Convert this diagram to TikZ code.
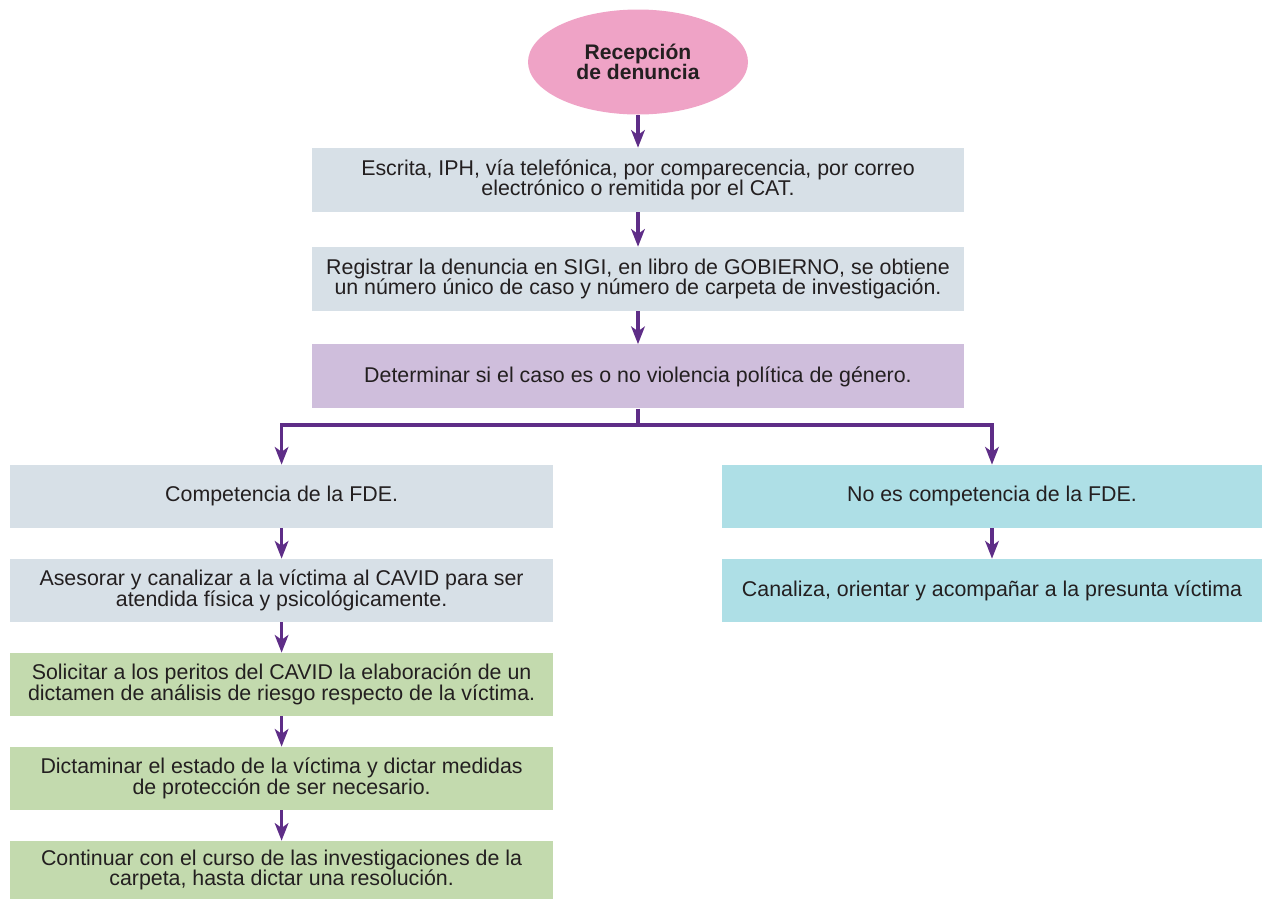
\documentclass[tikz,border=0pt]{standalone}
\usepackage{fontspec}
\setmainfont{Liberation Sans}
\usetikzlibrary{arrows.meta,shapes.geometric}

\definecolor{grisazul}{RGB}{215,224,231}
\definecolor{lila}{RGB}{207,190,220}
\definecolor{turquesa}{RGB}{174,223,230}
\definecolor{verde}{RGB}{195,218,174}
\definecolor{rosa}{RGB}{239,163,198}
\definecolor{morado}{RGB}{94,45,135}
\definecolor{texto}{RGB}{35,31,32}

\begin{document}
\begin{tikzpicture}[
    caja/.style ={rectangle, inner sep = 0pt, align=center, text=texto,
      font=\fontsize{15.2}{14.4}\selectfont},
    ancha/.style ={caja, minimum width=16.3cm, minimum height=1.6cm},
    izq/.style ={caja, minimum width=13.575cm, minimum height=1.575cm},
    der/.style ={caja, minimum width=13.5cm, minimum height=1.575cm},
    flecha/.style ={draw=morado, line width=2.3pt,
      -{Stealth[length=4.4mm, width=3.4mm, inset=1.2mm]}}]
   \useasboundingbox (0,0) rectangle (31.55,-22.475);
   \node[ellipse, fill=rosa, minimum width=5.5cm, minimum height=2.625cm, inner sep=0pt,
     align=center, text=texto, font=\fontsize{15}{14.4}\selectfont\bfseries]
     (recepcion) at (15.95,-1.55) {Recepción\\de denuncia};
   \node[ancha, fill=grisazul] (escrita) at (15.95,-4.5)
     {Escrita, IPH, vía telefónica, por comparecencia, por correo\\electrónico o remitida por el CAT.};
   \node[ancha, fill=grisazul] (registrar) at (15.95,-6.975)
     {Registrar la denuncia en SIGI, en libro de GOBIERNO, se obtiene\\un número único de caso y número de carpeta de investigación.};
   \node[ancha, fill=lila] (determinar) at (15.95,-9.41)
     {Determinar si el caso es o no violencia política de género.};
   \coordinate (split) at (15.95,-10.625);
   % rama izquierda
   \node[izq, fill=grisazul] (compet) at (7.04,-12.41) {Competencia de la FDE.};
   \node[izq, fill=grisazul] (asesorar) at (7.04,-14.76)
     {Asesorar y canalizar a la víctima al CAVID para ser\\atendida física y psicológicamente.};
   \node[izq, fill=verde] (solicitar) at (7.04,-17.11)
     {Solicitar a los peritos del CAVID la elaboración de un\\dictamen de análisis de riesgo respecto de la víctima.};
   \node[izq, fill=verde] (dictaminar) at (7.04,-19.46)
     {Dictaminar el estado de la víctima y dictar medidas\\de protección de ser necesario.};
   \node[izq, fill=verde, minimum height=1.45cm] (continuar) at (7.04,-21.75)
     {Continuar con el curso de las investigaciones de la\\carpeta, hasta dictar una resolución.};
   % rama derecha
   \node[der, fill=turquesa] (nocompet) at (24.8,-12.41) {No es competencia de la FDE.};
   \node[der, fill=turquesa] (canaliza) at (24.8,-14.76)
     {Canaliza, orientar y acompañar a la presunta víctima};
   \draw[flecha] (recepcion) -- (escrita);
   \draw[flecha] (escrita) -- (registrar);
   \draw[flecha] (registrar) -- (determinar);
   \draw[draw=morado, line width=2.3pt] (determinar) -- (split);
   \draw[flecha] (split) -| (compet);
   \draw[flecha] (split) -| (nocompet);
   \draw[flecha] (compet) -- (asesorar);
   \draw[flecha] (asesorar) -- (solicitar);
   \draw[flecha] (solicitar) -- (dictaminar);
   \draw[flecha] (dictaminar) -- (continuar);
   \draw[flecha] (nocompet) -- (canaliza);
 \end{tikzpicture}
\end{document}
